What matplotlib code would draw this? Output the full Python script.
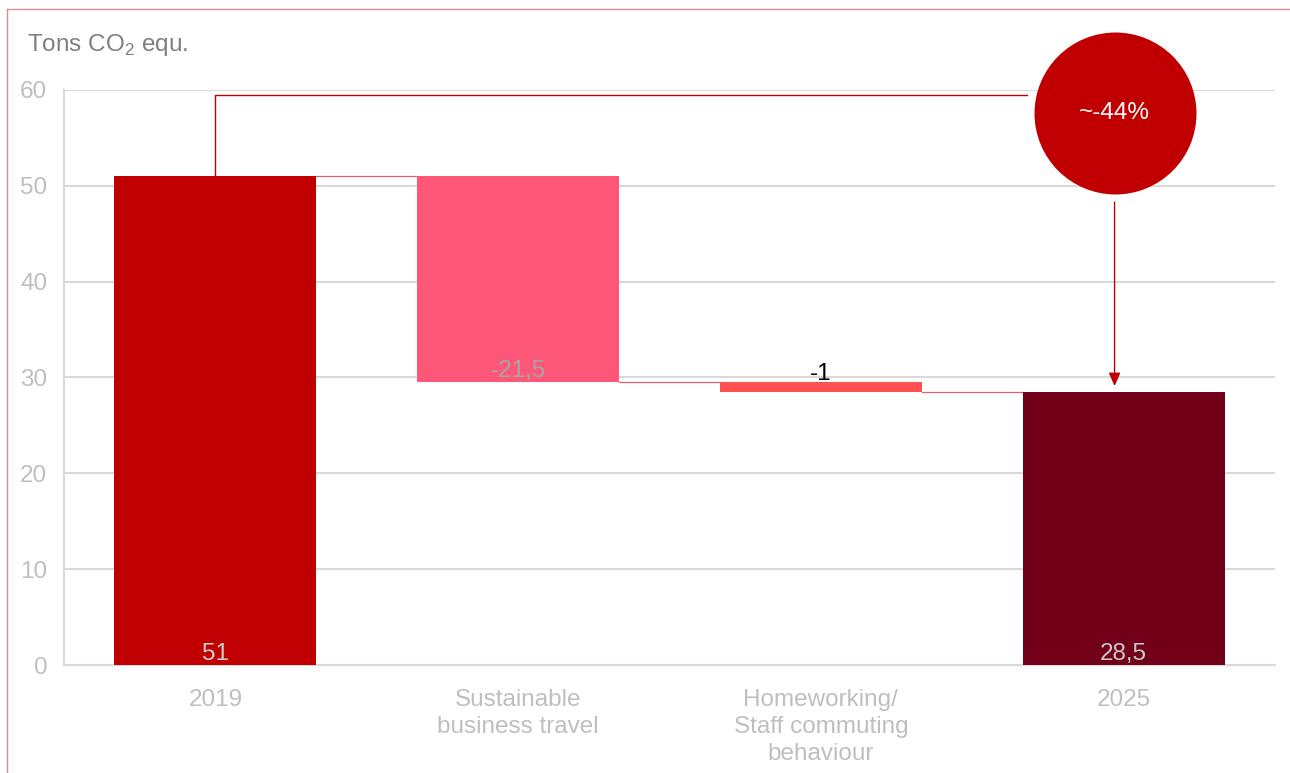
import numpy as np
import matplotlib
matplotlib.use("Agg")
import matplotlib.pyplot as plt
from matplotlib.lines import Line2D

plt.rcParams["font.family"] = ["Liberation Sans", "DejaVu Sans"]
plt.rcParams["mathtext.fontset"] = "custom"
plt.rcParams["mathtext.rm"] = "Liberation Sans"

# ── Data ──────────────────────────────────────────────────────────────────────
categories = ["2019", "Sustainable\nbusiness travel",
              "Homeworking/\nStaff commuting\nbehaviour", "2025"]
values = [51, -21.5, -1, 28.5]          # start, deltas, end
kinds = ["total", "delta", "delta", "total"]
labels = ["51", "-21,5", "-1", "28,5"]
change_label = "~-44%"

COLORS = ["#C00000", "#FF5778", "#FF5050", "#720019"]
LABEL_COLORS = ["#D0D0D0", "#A6A6A6", "#000000", "#C8C8C8"]
GRID = "#D9D9D9"
TICK = "#BFBFBF"
LINE = "#C00000"
FS = 17.5

# ── Waterfall geometry ────────────────────────────────────────────────────────
bottoms, heights, levels = [], [], []
level = 0
for v, k in zip(values, kinds):
    if k == "total":
        bottoms.append(0)
        heights.append(v)
        level = v
    else:
        new = level + v
        bottoms.append(min(level, new))
        heights.append(abs(v))
        level = new
    levels.append(level)

fig = plt.figure(figsize=(12.9, 7.73), dpi=100)
ax = fig.add_axes([0.0496, 0.1397, 0.9388, 0.7439])

x = np.arange(len(categories))
width = 0.667
ax.bar(x, heights, width, bottom=bottoms, color=COLORS, zorder=3)

# connectors
for i in range(len(x) - 1):
    ax.plot([x[i] + width / 2, x[i + 1] - width / 2], [levels[i], levels[i]],
            color="#E06070", lw=0.9, zorder=2)

# value labels
for i, (lab, c) in enumerate(zip(labels, LABEL_COLORS)):
    if kinds[i] == "delta" and heights[i] < 3:
        ax.text(x[i], bottoms[i] + heights[i] - 0.3, lab, ha="center", va="bottom",
                fontsize=FS, color=c, zorder=4)
    else:
        ax.text(x[i], bottoms[i] + 0.05, lab, ha="center", va="bottom",
                fontsize=FS, color=c, zorder=4)

# ── Axes styling ──────────────────────────────────────────────────────────────
ax.set_xlim(-0.5, 3.5)
ax.set_ylim(0, 60)
ax.set_yticks(np.arange(0, 61, 10))
ax.set_xticks(x)
ax.set_xticklabels(categories, fontsize=FS, color=TICK, linespacing=1.3)
ax.tick_params(axis="y", labelsize=FS, labelcolor=TICK, length=0, pad=12)
ax.tick_params(axis="x", length=0, pad=17)
ax.grid(axis="y", color=GRID, lw=1.5, zorder=0)
ax.set_axisbelow(True)
for s in ["top", "right"]:
    ax.spines[s].set_visible(False)
for s in ["left", "bottom"]:
    ax.spines[s].set_color(GRID)
    ax.spines[s].set_linewidth(1.5)

# ── Change bracket, bubble and arrow ──────────────────────────────────────────
bx = x[-1] - 0.03
ax.plot([x[0], x[0], 2.68], [values[0], 59.5, 59.5], color=LINE, lw=1.0,
        zorder=4, clip_on=False)
ax.scatter([bx], [57.6], s=13600, color="#C00000", zorder=5, clip_on=False,
           linewidths=0)
ax.text(bx, 57.6, change_label, ha="center", va="center", fontsize=FS,
        color="white", zorder=6)
ax.annotate("", xy=(bx, values[-1] + 0.6), xytext=(bx, 48.3),
            arrowprops=dict(arrowstyle="-|>,head_length=0.8,head_width=0.35",
                            color=LINE, lw=1.0, shrinkA=0, shrinkB=0), zorder=5)

# ── Title and frame ───────────────────────────────────────────────────────────
fig.text(27 / 1290, 1 - 45 / 773, "Tons CO$_\\mathrm{2}$ equ.", fontsize=FS,
         color="#7F7F7F", ha="left", va="center")
fig.add_artist(Line2D([7 / 1290, 1], [1 - 9 / 773, 1 - 9 / 773], color="#E08C8C", lw=1))
fig.add_artist(Line2D([7 / 1290, 7 / 1290], [0, 1 - 9 / 773], color="#E08C8C", lw=1))

plt.savefig("out.png", dpi=100)
plt.close()
